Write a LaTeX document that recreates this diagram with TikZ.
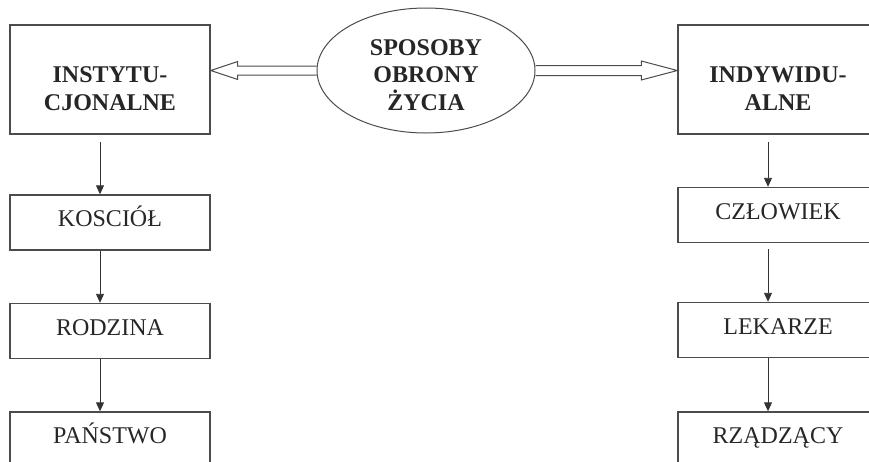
\documentclass[tikz,border=0pt]{standalone}
\usepackage{fontspec}
\setmainfont{Liberation Serif}
\usetikzlibrary{calc,shapes.geometric,arrows.meta}

\begin{document}
\begin{tikzpicture}[x=1pt,y=1pt,
box/.style={draw=black!70,line width=1.4pt,minimum width=200pt,inner sep=0pt,text=black!85,font=\fontsize{24}{27.5}\selectfont},
bigbox/.style={box,minimum height=109pt,font=\fontsize{24}{27.5}\selectfont\bfseries,align=center,text height=61pt,text depth=0pt},
smallbox/.style={box,minimum height=55pt,text height=16pt,text depth=8pt},
oval/.style={ellipse,draw=black!70,line width=1pt,minimum width=218pt,minimum height=125pt,inner sep=0pt,align=center,text=black!85,font=\fontsize{24}{27.5}\selectfont\bfseries,text height=79pt,text depth=0pt},
down/.style={-{Triangle[width=8pt,length=9pt]},line width=0.9pt,draw=black!80},
wide/.style={draw=black!70,line width=1pt,line join=miter}]
\useasboundingbox (0,0) rectangle (869,-461);
\clip (0,0) rectangle (869,-461);
\node[oval] (ell) at (426,-70.5) {SPOSOBY\\OBRONY\\ŻYCIA};
\node[bigbox] (inst) at (110,-79.5) {INSTYTU-\\CJONALNE};
\node[bigbox] (ind) at (778,-79.5) {INDYWIDU-\\ALNE};
\node[smallbox] (kosc) at (110,-222.5) {KOSCIÓŁ};
\node[smallbox] (rodz) at (110,-331) {RODZINA};
\node[smallbox] (pans) at (110,-439.5) {PAŃSTWO};
\node[smallbox] (czlo) at (778,-215) {CZŁOWIEK};
\node[smallbox] (lek) at (778,-330) {LEKARZE};
\node[smallbox] (rzad) at (778,-439.5) {RZĄDZĄCY};
\foreach \a/\b/\s in {inst/kosc/7,kosc/rodz/0,rodz/pans/0,ind/czlo/7,czlo/lek/6,lek/rzad/0}{
\draw[down,shorten <=\s pt] ([xshift=-10pt]\a.south)--([xshift=-10pt]\b.north);
}
\coordinate (lt) at (inst.east |- ell.west);
\coordinate (rt) at (ind.west |- ell.east);
\draw[wide] ($(ell.west)+(0,4.5)$)--($(lt)+(27,4.5)$)--($(lt)+(27,9)$)--(lt)--($(lt)+(27,-9)$)--($(lt)+(27,-4.5)$)--($(ell.west)+(0,-4.5)$);
\draw[wide] ($(ell.east)+(0,5)$)--($(rt)+(-36,5)$)--($(rt)+(-36,9.5)$)--(rt)--($(rt)+(-36,-9.5)$)--($(rt)+(-36,-5)$)--($(ell.east)+(0,-5)$);
\end{tikzpicture}
\end{document}
